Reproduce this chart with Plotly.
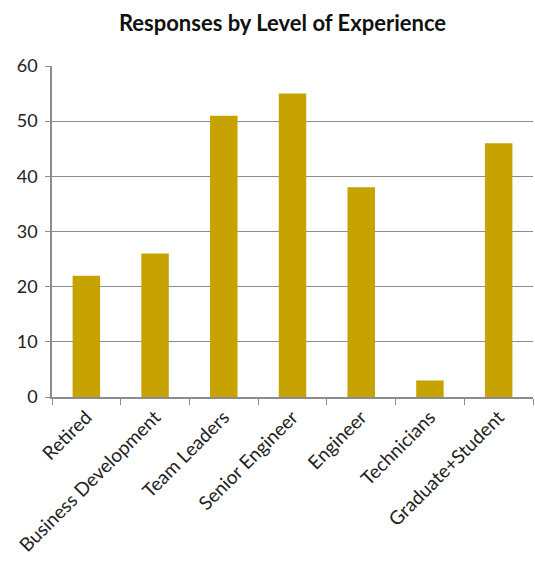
import plotly.graph_objects as go

categories = ["Retired", "Business Development", "Team Leaders", "Senior Engineer",
              "Engineer", "Technicians", "Graduate+Student"]
responses = [22, 26, 51, 55, 38, 3, 46]
y_ticks = [0, 10, 20, 30, 40, 50, 60]

fig = go.Figure(go.Bar(x=categories, y=responses, marker_color="#C6A300",
                       marker_line_width=0))

fig.update_layout(
    width=535, height=563,
    margin=dict(l=52, r=2, t=66, b=166, autoexpand=False),
    paper_bgcolor="white", plot_bgcolor="white",
    bargap=0.6,
    showlegend=False,
    font=dict(family="Lato, Open Sans, sans-serif", size=18, color="#222"),
    title=dict(text="<b>Responses by Level of Experience</b>", x=0.528, xanchor="center",
               y=0.958, yanchor="middle", font=dict(size=22, color="#111")),
)
fig.update_xaxes(tickangle=-45, showline=True, linecolor="#8c8c8c", linewidth=1.5,
                 ticks="outside", ticklen=6, tickcolor="#8c8c8c", tickson="boundaries",
                 showgrid=False, automargin=False, tickfont=dict(size=19))
fig.update_yaxes(range=[0, 60], tickvals=y_ticks, showline=True, linecolor="#8c8c8c",
                 linewidth=1.5, ticks="outside", ticklen=5, tickcolor="#8c8c8c",
                 gridcolor="#8c8c8c", gridwidth=1, zeroline=False, ticklabelstandoff=4,
                 automargin=False, tickfont=dict(size=18))

fig.write_html("out.html")
